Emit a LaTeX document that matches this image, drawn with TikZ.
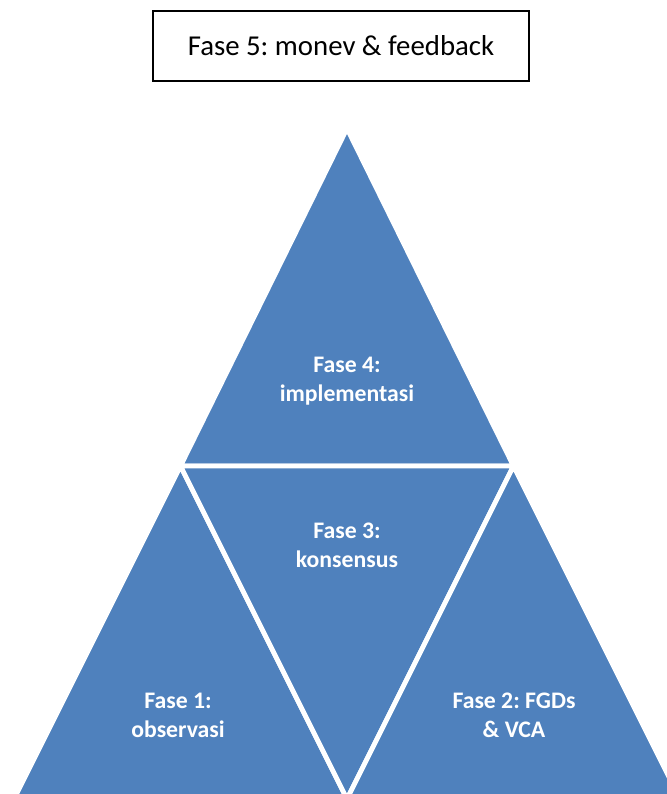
\documentclass[tikz,border=0pt]{standalone}
\usepackage{fontspec}
\setmainfont{Carlito}
\frenchspacing
\usetikzlibrary{calc}

\definecolor{phaseblue}{HTML}{4F81BD}

\tikzset{
  phase/.style={fill=phaseblue, draw=white, line width=3.6pt, line join=miter},
  phaselabel/.style={text=white, align=center,
    font=\fontsize{17.8}{21.75}\selectfont\bfseries},
  topbox/.style={draw=black, line width=1.5pt, inner sep=0pt,
    minimum width=282pt, minimum height=52.5pt,
    font=\fontsize{21.6}{26}\selectfont}
}

\begin{document}
\begin{tikzpicture}[x=0.75pt,y=-0.75pt]
    \useasboundingbox (0,0) rectangle (667,794);
    \node[topbox] (fase5) at (341,46) {Fase 5: monev \& feedback};
    % corners of the pyramid
    \coordinate (A) at (347,128.5);
    \coordinate (L) at (180.5,466);
    \coordinate (R) at (513.5,466);
    \coordinate (BL) at (14,799);
    \coordinate (BM) at (347,799);
    \coordinate (BR) at (680,799);
    \begin{scope}
        \clip (0,0) rectangle (667,794);
        \draw[phase] (A) -- (L) -- (R) -- cycle;
        \draw[phase] (L) -- (BL) -- (BM) -- cycle;
        \draw[phase] (L) -- (R) -- (BM) -- cycle;
        \draw[phase] (R) -- (BM) -- (BR) -- cycle;
    \end{scope}
    \node[phaselabel] (fase4) at (347,381) {Fase 4:\\implementasi};
    \node[phaselabel] (fase3) at (347,545) {Fase 3:\\konsensus};
    \node[phaselabel] (fase1) at (178,715) {Fase 1:\\observasi};
    \node[phaselabel] (fase2) at (514,715) {Fase 2: FGDs\\\& VCA};
\end{tikzpicture}
\end{document}
